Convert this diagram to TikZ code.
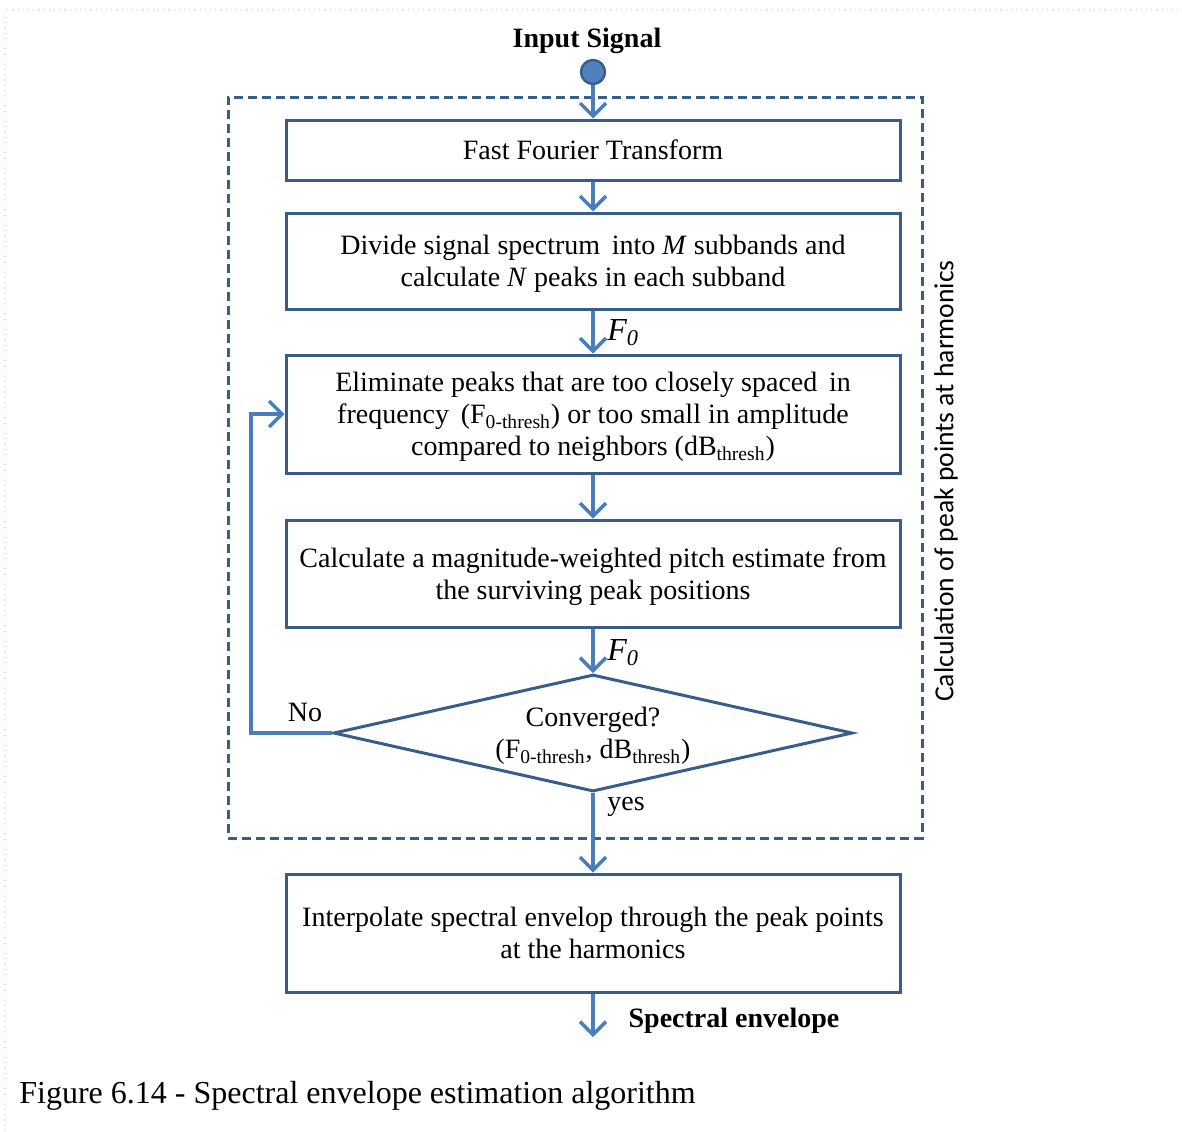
\documentclass[tikz,border=0pt]{standalone}
\usepackage{fontspec}
\setmainfont{Liberation Serif}
\newfontfamily\sidefont{Carlito}
\usetikzlibrary{arrows.meta,shapes.geometric}

\definecolor{boxc}{RGB}{56,93,138}
\definecolor{arrc}{RGB}{74,126,187}
\definecolor{dotc}{RGB}{79,129,189}
\definecolor{framec}{RGB}{214,232,240}

\begin{document}
\begin{tikzpicture}[x=0.5pt,y=-0.5pt,
  txt/.style={font=\fontsize{14}{16}\selectfont},
  stepbox/.style={draw=boxc, line width=1.5pt, minimum width=307pt, align=center,
    inner sep=0pt, text depth=0pt, txt},
  decision/.style={shape=diamond, draw=boxc, line width=1.5pt, minimum width=259.5pt,
    minimum height=58.5pt, aspect=4.44, inner sep=0pt, align=center, text depth=0pt, txt},
  flow/.style={draw=arrc, line width=1.7pt, -{Straight Barb[length=6.5pt,width=13pt]}},
  boldlbl/.style={font=\fontsize{14}{16}\selectfont\bfseries, inner sep=0pt},
  lbl/.style={txt, inner sep=1pt},
  flbl/.style={font=\fontsize{16}{18}\selectfont\itshape, inner sep=0pt, anchor=west}
]
\useasboundingbox (0,0) rectangle (1182,1131);

% faint page frame
\draw[framec, dotted, line width=0.6pt] (5,1131) -- (5,10) -- (1182,10);

% group of iterative steps
\node[draw=boxc, line width=1.5pt, dash pattern=on 4.5pt off 2.5pt,
      minimum width=347pt, minimum height=370.5pt, inner sep=0pt] (group) at (575,467.5) {};
\node[rotate=90, font=\sidefont\fontsize{13.8}{16}\selectfont] (side) at (946,481)
  {Calculation of peak points at harmonics};

% source
\node[boldlbl] (inlabel) at (587,41) {Input Signal};
\node[circle, fill=dotc, draw=boxc, line width=1.2pt, minimum size=12pt, inner sep=0pt] (src) at (593,72) {};

% steps
\node[stepbox, minimum height=30pt] (fft) at (593,150) {Fast Fourier Transform};
\node[stepbox, minimum height=48pt] (div) at (593,261)
  {Divide signal spectrum\, into \textit{M} subbands and\\calculate \textit{N} peaks in each subband};
\node[stepbox, minimum height=59pt] (elim) at (593,414)
  {Eliminate peaks that are too closely spaced\, in\\frequency\, (F\textsubscript{0-thresh}) or too small in amplitude\\compared to neighbors (dB\textsubscript{thresh})};
\node[stepbox, minimum height=53.5pt] (pitch) at (593,573.5)
  {Calculate a magnitude-weighted pitch estimate from\\the surviving peak positions};
\node[decision] (conv) at (593,733)
  {Converged?\\(F\textsubscript{0-thresh}, dB\textsubscript{thresh})};
\node[stepbox, minimum height=59pt] (interp) at (593,933)
  {Interpolate spectral envelop through the peak points\\at the harmonics};

% connectors
\coordinate (loop) at (251,733);
\coordinate (out) at (593,1037);
\draw[flow] (src) -- (fft);
\draw[flow] (fft) -- (div);
\draw[flow] (div) -- (elim);
\draw[flow] (elim) -- (pitch);
\draw[flow] (pitch) -- (conv);
\draw[flow] (conv.west) -- (loop) |- (elim.west);
\draw[flow] (conv.south) -- (interp);
\draw[flow] (interp) -- (out);

% connector labels
\node[flbl] (f0a) at (607,333) {F\textsubscript{0}};
\node[flbl] (f0b) at (607,653) {F\textsubscript{0}};
\node[lbl, anchor=west] (yes) at (605,807) {yes};
\node[lbl] (no) at (305,712) {No};
\node[boldlbl] (outlabel) at (734,1021) {Spectral envelope};

% caption
\node[anchor=west, font=\fontsize{16}{19}\selectfont, inner sep=0pt] (cap) at (19,1096)
  {Figure 6.14 - Spectral envelope estimation algorithm};
\end{tikzpicture}
\end{document}
